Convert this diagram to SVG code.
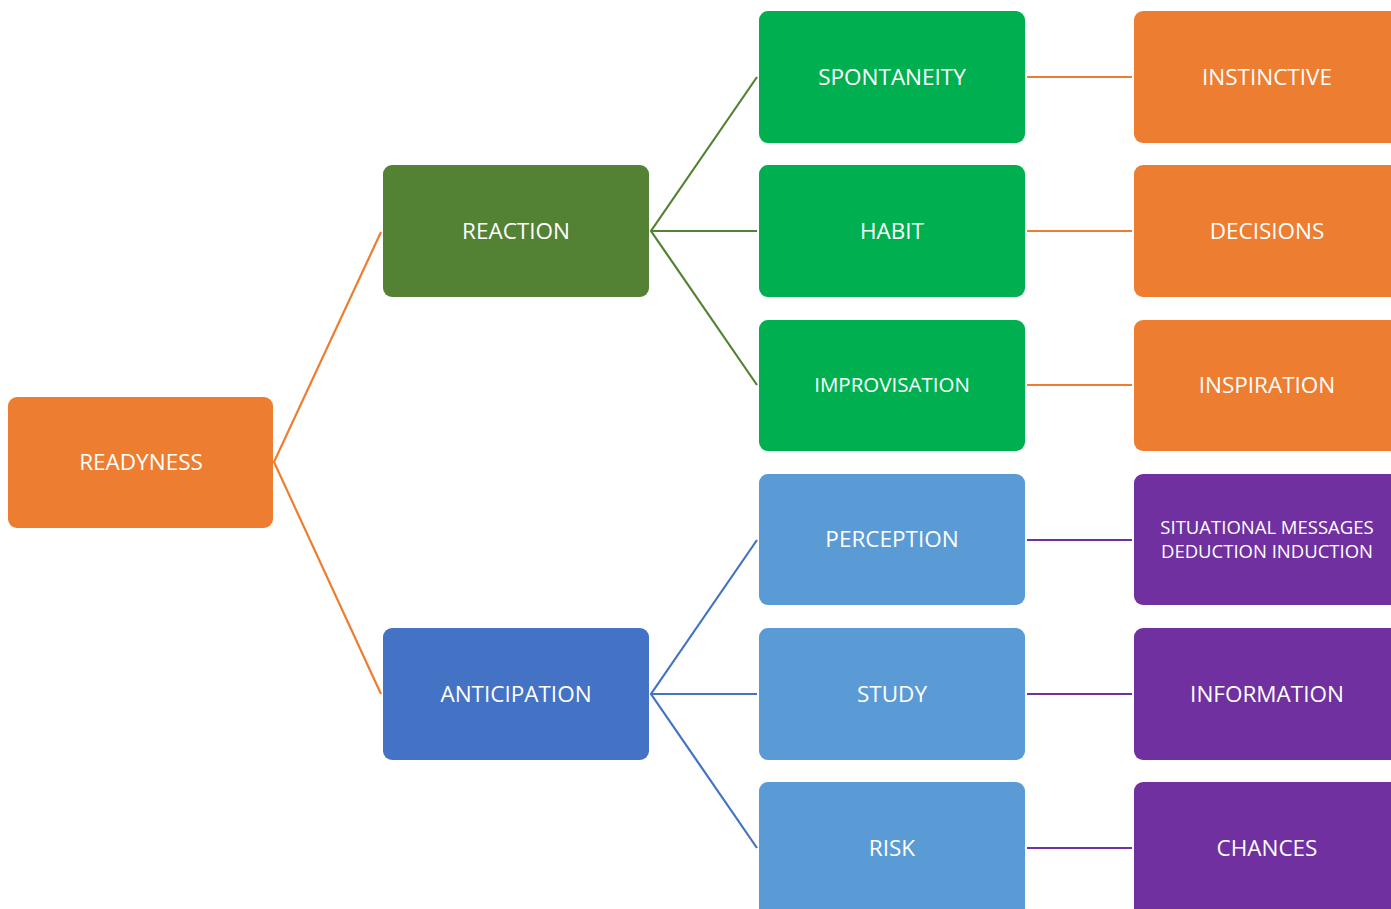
<svg xmlns="http://www.w3.org/2000/svg" width="1391" height="909" viewBox="0 0 1391 909">
  <style>
    .box { stroke: none; }
    .orange { fill: #ED7D31; }
    .dkgreen { fill: #548235; }
    .green { fill: #00B050; }
    .blue { fill: #4472C4; }
    .ltblue { fill: #5B9BD5; }
    .purple { fill: #7030A0; }
    .lbl { font-family: "Open Sans", "Noto Sans", sans-serif; font-size: 22.5px; fill: #ffffff; text-anchor: middle; dominant-baseline: central; }
    .small { font-size: 18.5px; }
    .c { fill: none; stroke-width: 2.2; }
  </style>
  <rect width="1391" height="909" fill="#ffffff"/>

  <!-- connectors -->
  <g id="connectors">
    <path class="c" stroke="#ED7D31" d="M381,232 L274,462 L381,694"/>
    <path class="c" stroke="#548235" d="M757,77 L651,231 L757,385 M651,231 L757,231"/>
    <path class="c" stroke="#4472C4" d="M757,540 L651,694 L757,848 M651,694 L757,694"/>
    <path class="c" stroke="#ED7D31" d="M1027,77 H1132 M1027,231 H1132 M1027,385 H1132"/>
    <path class="c" stroke="#7030A0" d="M1027,540 H1132 M1027,694 H1132 M1027,848 H1132"/>
  </g>

  <g id="readyness">
    <rect class="box orange" x="8" y="397" width="265" height="131" rx="9"/>
    <text class="lbl" x="141" y="461">READYNESS</text>
  </g>
  <g id="reaction">
    <rect class="box dkgreen" x="383" y="165" width="266" height="132" rx="9"/>
    <text class="lbl" x="516" y="230">REACTION</text>
  </g>
  <g id="anticipation">
    <rect class="box blue" x="383" y="628" width="266" height="132" rx="9"/>
    <text class="lbl" x="516" y="693">ANTICIPATION</text>
  </g>

  <g id="spontaneity">
    <rect class="box green" x="759" y="11" width="266" height="132" rx="9"/>
    <text class="lbl" x="892" y="76">SPONTANEITY</text>
  </g>
  <g id="habit">
    <rect class="box green" x="759" y="165" width="266" height="132" rx="9"/>
    <text class="lbl" x="892" y="230">HABIT</text>
  </g>
  <g id="improvisation">
    <rect class="box green" x="759" y="320" width="266" height="131" rx="9"/>
    <text class="lbl" x="892" y="384" style="font-size:20.5px">IMPROVISATION</text>
  </g>
  <g id="perception">
    <rect class="box ltblue" x="759" y="474" width="266" height="131" rx="9"/>
    <text class="lbl" x="892" y="538">PERCEPTION</text>
  </g>
  <g id="study">
    <rect class="box ltblue" x="759" y="628" width="266" height="132" rx="9"/>
    <text class="lbl" x="892" y="693">STUDY</text>
  </g>
  <g id="risk">
    <rect class="box ltblue" x="759" y="782" width="266" height="140" rx="9"/>
    <text class="lbl" x="892" y="847">RISK</text>
  </g>

  <g id="instinctive">
    <rect class="box orange" x="1134" y="11" width="270" height="132" rx="9"/>
    <text class="lbl" x="1267" y="76">INSTINCTIVE</text>
  </g>
  <g id="decisions">
    <rect class="box orange" x="1134" y="165" width="270" height="132" rx="9"/>
    <text class="lbl" x="1267" y="230">DECISIONS</text>
  </g>
  <g id="inspiration">
    <rect class="box orange" x="1134" y="320" width="270" height="131" rx="9"/>
    <text class="lbl" x="1267" y="384">INSPIRATION</text>
  </g>
  <g id="situational">
    <rect class="box purple" x="1134" y="474" width="270" height="131" rx="9"/>
    <text class="lbl small" x="1267" y="526">SITUATIONAL MESSAGES</text>
    <text class="lbl small" x="1267" y="550">DEDUCTION INDUCTION</text>
  </g>
  <g id="information">
    <rect class="box purple" x="1134" y="628" width="270" height="132" rx="9"/>
    <text class="lbl" x="1267" y="693">INFORMATION</text>
  </g>
  <g id="chances">
    <rect class="box purple" x="1134" y="782" width="270" height="140" rx="9"/>
    <text class="lbl" x="1267" y="847">CHANCES</text>
  </g>
</svg>
